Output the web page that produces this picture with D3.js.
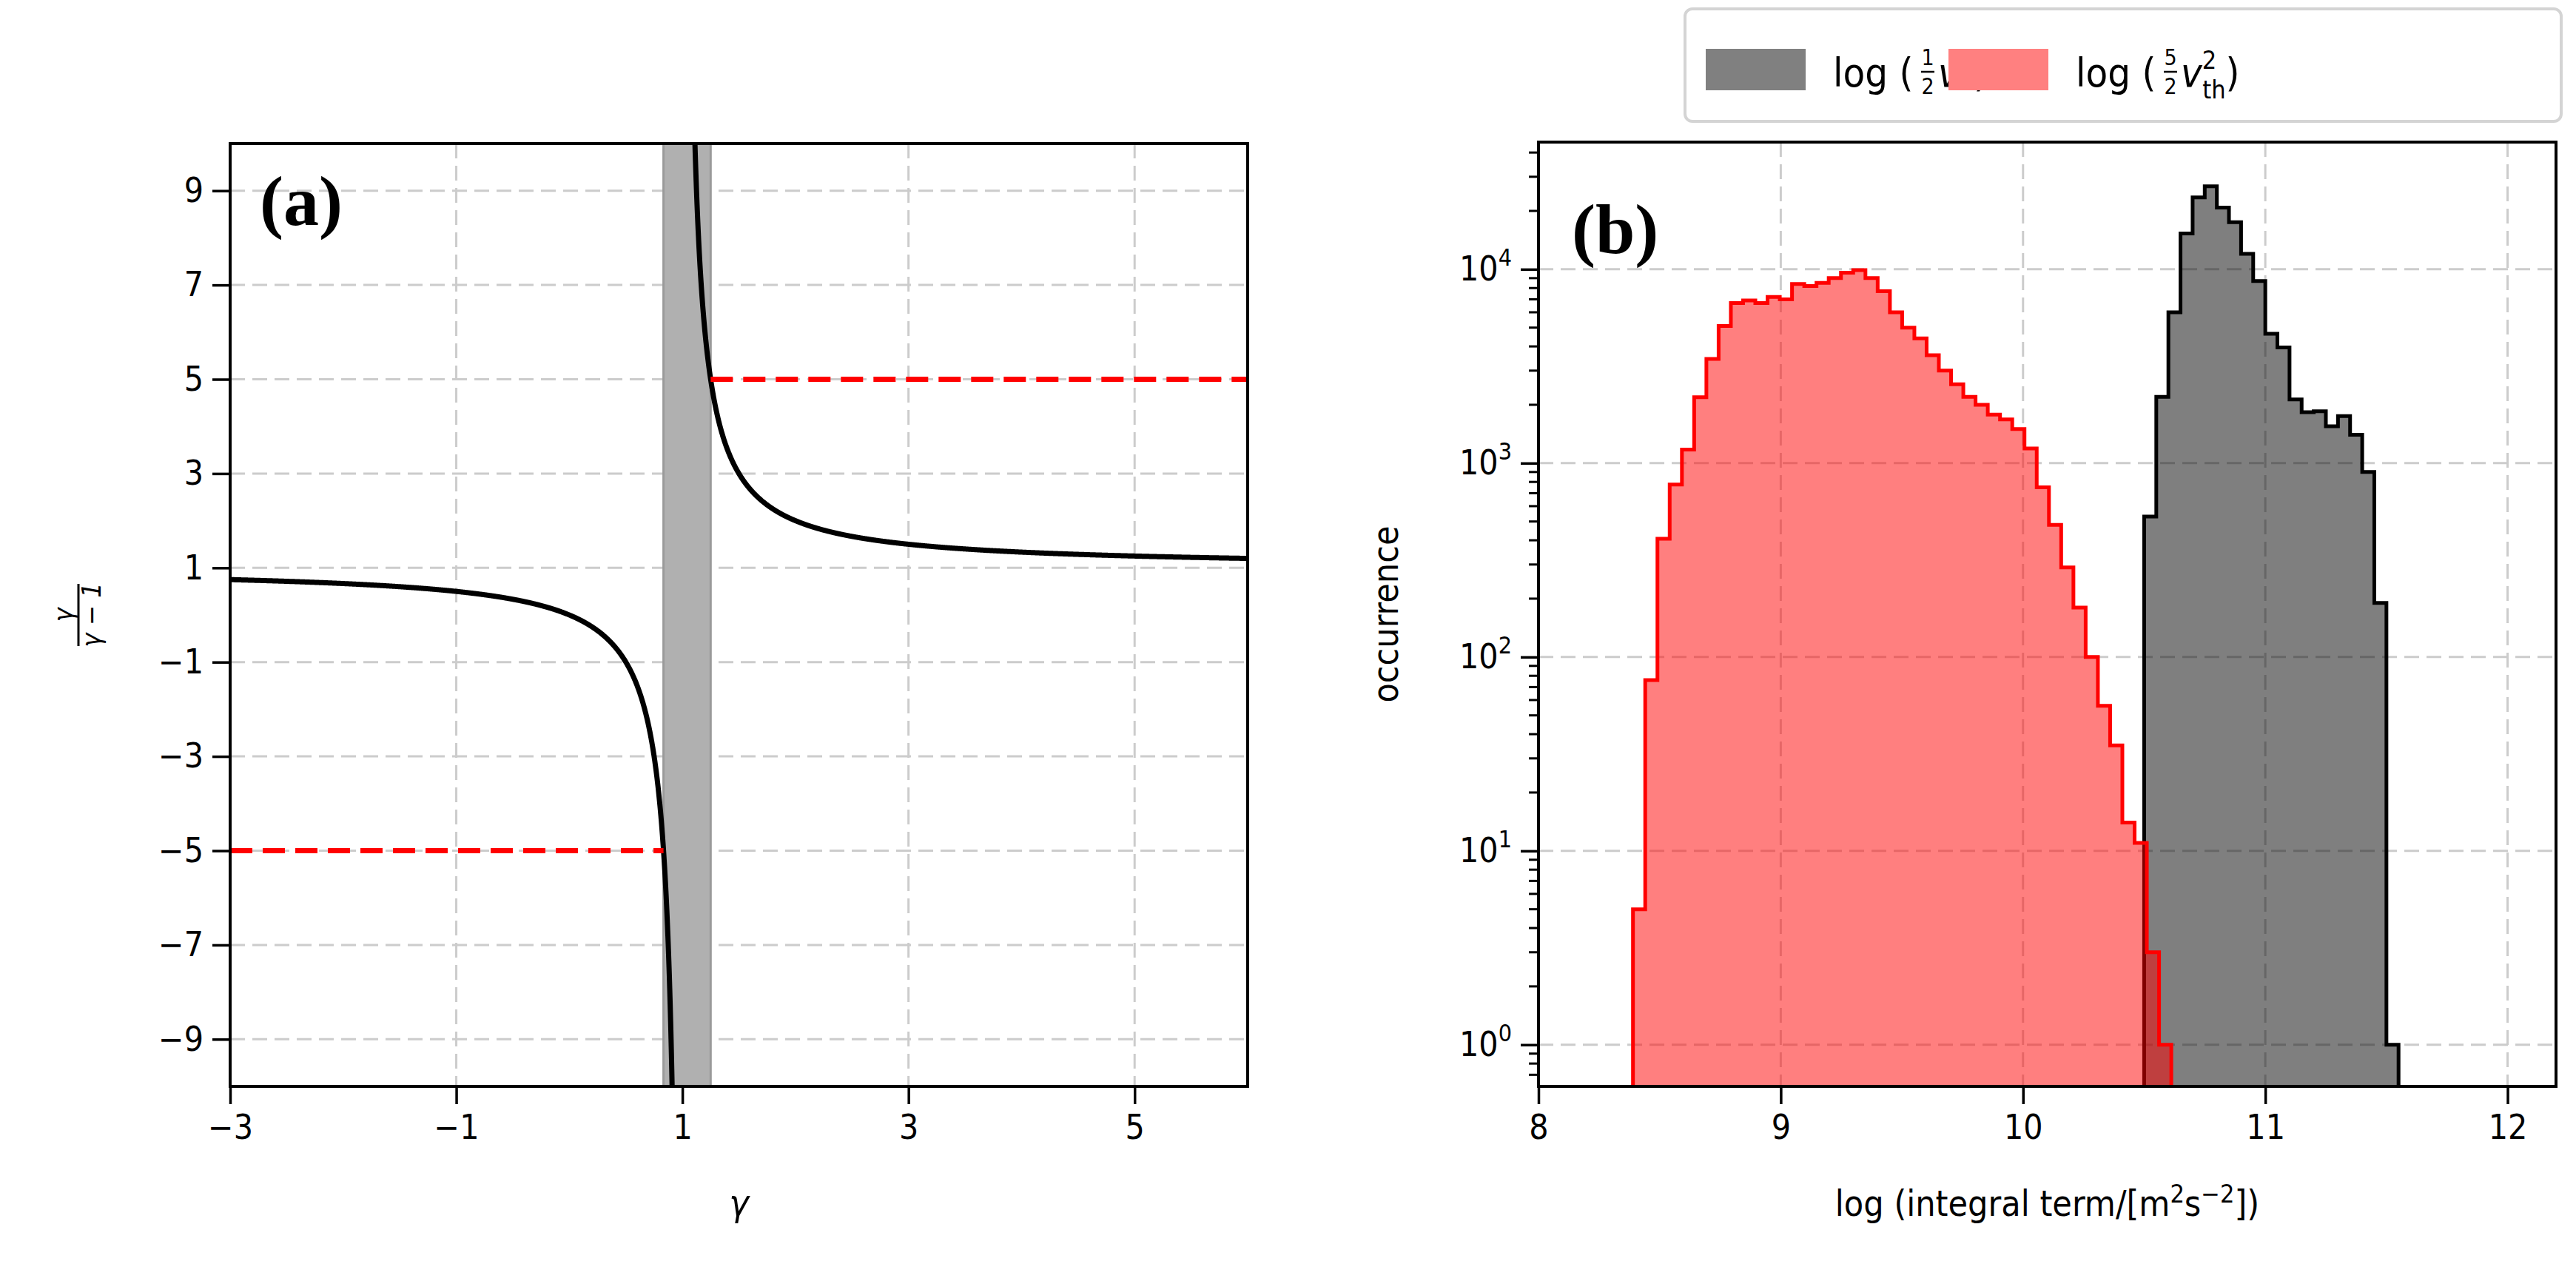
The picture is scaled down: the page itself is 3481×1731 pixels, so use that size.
<!DOCTYPE html>
<html>
<head>
<meta charset="utf-8">
<script src="https://cdn.jsdelivr.net/npm/d3@7"></script>
<style>
  body { margin: 0; background: #fff; }
  text { font-family: "DejaVu Sans Condensed", "DejaVu Sans", sans-serif; }
</style>
</head>
<body>
<svg id="fig" width="3481" height="1731"></svg>
<script>
// panel (a): gamma/(gamma-1)
const gammaTicks = [-3, -1, 1, 3, 5]
const ratioTicks = [-9, -7, -5, -3, -1, 1, 3, 5, 7, 9]
const bandRange = [0.833, 1.25]
const redLevels = [{ from: -3, to: 0.833, y: -5 }, { from: 1.25, to: 6, y: 5 }]

// panel (b): histograms, bin width 0.05
const grayStart = 10.50
const grayCounts = [530, 2200, 6000, 15300, 23500, 26800, 20800, 17500, 12000, 8700,
  4650, 3950, 2130, 1830, 1850, 1550, 1750, 1400, 900, 190, 1]
const redStart = 8.39
const redWidth = 0.0505
const redCounts = [5, 76, 407, 776, 1175, 2190, 3450, 5100, 6700, 6900, 6700, 7200, 7000,
  8400, 8200, 8500, 9000, 9600, 9900, 9000, 7700, 6000, 5000, 4400, 3600, 3000, 2550,
  2200, 2000, 1780, 1680, 1500, 1190, 750, 480, 290, 180, 100, 56, 35, 14, 11, 3, 1]
const logTicks = [8, 9, 10, 11, 12]
const occTicks = [0, 1, 2, 3, 4]

const svg = d3.select("#fig")
const FS = 46

function gridAndFrame(g, x, y, xt, yt, w, h) {
  g.append("g").selectAll("line").data(xt).join("line")
    .attr("x1", d => x(d)).attr("x2", d => x(d)).attr("y1", 0).attr("y2", h)
    .attr("stroke", "#cccccc").attr("stroke-width", 3).attr("stroke-dasharray", "20,10")
  g.append("g").selectAll("line").data(yt).join("line")
    .attr("y1", d => y(d)).attr("y2", d => y(d)).attr("x1", 0).attr("x2", w)
    .attr("stroke", "#cccccc").attr("stroke-width", 3).attr("stroke-dasharray", "20,10")
}

function styleAxis(ax) {
  ax.select(".domain").remove()
  ax.selectAll(".tick line").attr("stroke", "#000").attr("stroke-width", 3.5)
  ax.selectAll(".tick text").attr("font-size", FS).attr("fill", "#000")
}

// ---------- panel (a)
{
  const L = 311, T = 194, W = 1686 - 311, H = 1468 - 194
  const g = svg.append("g").attr("transform", `translate(${L},${T})`)
  const x = d3.scaleLinear().domain([-3, 6]).range([0, W])
  const y = d3.scaleLinear().domain([-10, 10]).range([H, 0])
  const defs = svg.append("defs")
  defs.append("clipPath").attr("id", "clipA").append("rect").attr("width", W).attr("height", H)

  gridAndFrame(g, x, y, gammaTicks, ratioTicks, W, H)

  g.append("rect").attr("x", x(bandRange[0])).attr("width", x(bandRange[1]) - x(bandRange[0]))
    .attr("y", 0).attr("height", H).attr("fill", "#b0b0b0")
    .attr("stroke", "#9a9a9a").attr("stroke-width", 3)

  const line = d3.line().x(d => x(d)).y(d => y(d / (d - 1)))
  const left = d3.range(-3, 0.95, 0.002)
  const right = d3.range(1.05, 6.001, 0.002)
  const cg = g.append("g").attr("clip-path", "url(#clipA)")
  ;[left, right].forEach(seg => cg.append("path").attr("d", line(seg))
    .attr("fill", "none").attr("stroke", "#000").attr("stroke-width", 7))

  g.selectAll(".lvl").data(redLevels).join("line")
    .attr("x1", d => x(d.from)).attr("x2", d => x(d.to))
    .attr("y1", d => y(d.y)).attr("y2", d => y(d.y))
    .attr("stroke", "#ff0000").attr("stroke-width", 7).attr("stroke-dasharray", "30,14")

  g.append("rect").attr("width", W).attr("height", H).attr("fill", "none")
    .attr("stroke", "#000").attr("stroke-width", 4)

  const ax = g.append("g").attr("transform", `translate(0,${H})`)
    .call(d3.axisBottom(x).tickValues(gammaTicks).tickSize(24).tickPadding(14)
      .tickFormat(d => d < 0 ? "\u2212" + Math.abs(d) : d))
  styleAxis(ax)
  const ay = g.append("g").call(d3.axisLeft(y).tickValues(ratioTicks).tickSize(24).tickPadding(12)
    .tickFormat(d => d < 0 ? "\u2212" + Math.abs(d) : d))
  styleAxis(ay)

  g.append("text").attr("x", W / 2).attr("y", H + 175).attr("text-anchor", "middle")
    .attr("font-size", 50).attr("font-style", "italic").text("γ")
  const yl = g.append("g").attr("transform", `translate(-205,${y(0)}) rotate(-90)`)
  yl.append("text").attr("text-anchor", "middle").attr("y", -8).attr("font-size", 36)
    .attr("font-style", "italic").text("γ")
  yl.append("line").attr("x1", -42).attr("x2", 42).attr("stroke", "#000").attr("stroke-width", 3)
  yl.append("text").attr("text-anchor", "middle").attr("y", 30).attr("font-size", 36)
    .attr("font-style", "italic").text("γ \u2212 1")

  g.append("text").attr("x", 40).attr("y", 110).attr("font-size", 96).attr("font-weight", "bold")
    .style("font-family", "'Liberation Serif', serif").text("(a)")
}

// ---------- panel (b)
{
  const L = 2079, T = 192, W = 3454 - 2079, H = 1468 - 192
  const g = svg.append("g").attr("transform", `translate(${L},${T})`)
  const x = d3.scaleLinear().domain([8, 12.2]).range([0, W])
  const y = d3.scaleLog().domain([0.61, 10 ** 4.656]).range([H, 0])

  gridAndFrame(g, x, y, logTicks, occTicks.map(p => 10 ** p), W, H)

  function stepPath(start, width, counts) {
    const pts = [[start, y.domain()[0]]]
    counts.forEach((c, i) => { pts.push([start + i * width, c]); pts.push([start + (i + 1) * width, c]) })
    pts.push([start + counts.length * width, y.domain()[0]])
    return d3.line().x(d => x(d[0])).y(d => y(d[1]))(pts)
  }
  g.append("path").attr("d", stepPath(grayStart, 0.05, grayCounts))
    .attr("fill", "rgba(0,0,0,0.5)").attr("stroke", "#000").attr("stroke-width", 5)
  g.append("path").attr("d", stepPath(redStart, redWidth, redCounts))
    .attr("fill", "rgba(255,0,0,0.5)").attr("stroke", "#ff0000").attr("stroke-width", 5)

  g.append("rect").attr("width", W).attr("height", H).attr("fill", "none")
    .attr("stroke", "#000").attr("stroke-width", 4)

  const ax = g.append("g").attr("transform", `translate(0,${H})`)
    .call(d3.axisBottom(x).tickValues(logTicks).tickSize(24).tickPadding(14).tickFormat(d3.format("d")))
  styleAxis(ax)

  const minor = []
  for (let p = -1; p <= 4; p++) for (let k = 2; k <= 9; k++) {
    const v = k * 10 ** p
    if (v >= y.domain()[0] && v <= y.domain()[1]) minor.push(v)
  }
  g.append("g").selectAll("line").data(minor).join("line")
    .attr("x1", -13).attr("x2", 0).attr("y1", d => y(d)).attr("y2", d => y(d))
    .attr("stroke", "#000").attr("stroke-width", 3)
  const ay = g.append("g").call(d3.axisLeft(y).tickValues(occTicks.map(p => 10 ** p))
    .tickSize(24).tickPadding(12).tickFormat(() => ""))
  styleAxis(ay)
  ay.selectAll(".tick text").each(function (d) {
    const t = d3.select(this)
    t.append("tspan").text("10")
    t.append("tspan").attr("dy", -20).attr("font-size", 32).text(Math.round(Math.log10(d)))
  })

  g.append("text").attr("x", W / 2).attr("y", H + 175).attr("text-anchor", "middle")
    .attr("font-size", 48).text("log (integral term/[m")
    .call(t => {
      t.append("tspan").attr("dy", -18).attr("font-size", 34).text("2")
      t.append("tspan").attr("dy", 18).text("s")
      t.append("tspan").attr("dy", -18).attr("font-size", 34).text("\u22122")
      t.append("tspan").attr("dy", 18).text("])")
    })
  g.append("text").attr("transform", `translate(-190,${H / 2}) rotate(-90)`)
    .attr("text-anchor", "middle").attr("font-size", 48).text("occurrence")

  g.append("text").attr("x", 45).attr("y", 150).attr("font-size", 96).attr("font-weight", "bold")
    .style("font-family", "'Liberation Serif', serif").text("(b)")
}

// ---------- legend
{
  const lg = svg.append("g")
  lg.append("rect").attr("x", 2277).attr("y", 12).attr("width", 1184).attr("height", 152)
    .attr("rx", 10).attr("fill", "#fff").attr("stroke", "#d4d4d4").attr("stroke-width", 4)
  const items = [
    { fill: "#808080", x: 2305, num: "1", sub: "" },
    { fill: "#ff8080", x: 2633, num: "5", sub: "th" }
  ]
  items.forEach(it => {
    lg.append("rect").attr("x", it.x).attr("y", 66).attr("width", 135).attr("height", 56).attr("fill", it.fill)
    const tx = it.x + 172
    const t = lg.append("text").attr("x", tx).attr("y", 117).attr("font-size", 54)
    t.append("tspan").text("log (")
    // small fraction
    const fx = tx + 128
    lg.append("text").attr("x", fx).attr("y", 88).attr("font-size", 30).attr("text-anchor", "middle").text(it.num)
    lg.append("line").attr("x1", fx - 9).attr("x2", fx + 9).attr("y1", 97).attr("y2", 97).attr("stroke", "#000").attr("stroke-width", 2.5)
    lg.append("text").attr("x", fx).attr("y", 127).attr("font-size", 30).attr("text-anchor", "middle").text("2")
    const t2 = lg.append("text").attr("x", fx + 14).attr("y", 117).attr("font-size", 54)
    t2.append("tspan").attr("font-style", "italic").text("v")
    t2.append("tspan").attr("dy", -24).attr("font-size", 34).text("2")
    if (it.sub) {
      t2.append("tspan").attr("dx", -19).attr("dy", 40).attr("font-size", 34).text(it.sub)
      t2.append("tspan").attr("dy", -16).text(")")
    } else {
      t2.append("tspan").attr("dy", 24).text(")")
    }
  })
}
</script>
</body>
</html>
